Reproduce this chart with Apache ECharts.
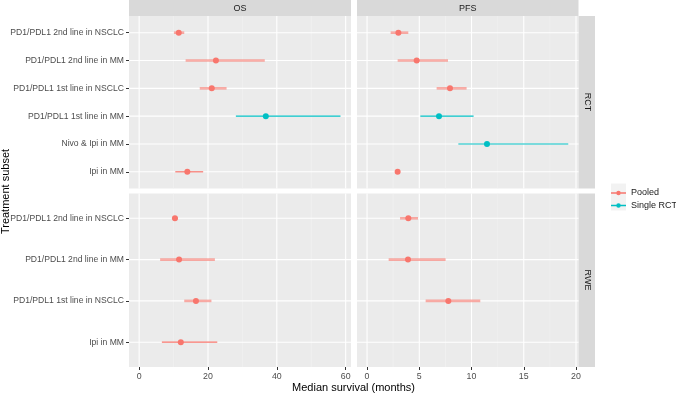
<!DOCTYPE html>
<html>
<head>
<meta charset="utf-8">
<script src="https://cdn.jsdelivr.net/npm/echarts@6/dist/echarts.min.js"></script>
<style>
html, body { margin: 0; padding: 0; background: #fff; }
#chart { width: 676px; height: 393px; }
</style>
</head>
<body>
<div id="chart"></div>
<script>
// categories, top to bottom
var rctCategories = ['PD1/PDL1 2nd line in NSCLC', 'PD1/PDL1 2nd line in MM', 'PD1/PDL1 1st line in NSCLC',
    'PD1/PDL1 1st line in MM', 'Nivo & Ipi in MM', 'Ipi in MM'];
var rctGroups = ['Pooled', 'Pooled', 'Pooled', 'Single RCT', 'Single RCT', 'Pooled'];
var rweCategories = ['PD1/PDL1 2nd line in NSCLC', 'PD1/PDL1 2nd line in MM', 'PD1/PDL1 1st line in NSCLC', 'Ipi in MM'];
var rweGroups = ['Pooled', 'Pooled', 'Pooled', 'Pooled'];

// median survival (months) and interval
var osRctMedian = [11.5, 22.3, 21.1, 36.8, null, 14.0];
var osRctLower  = [10.1, 13.5, 17.6, 28.1, null, 10.5];
var osRctUpper  = [13.1, 36.5, 25.4, 58.5, null, 18.6];
var pfsRctMedian = [3.0, 4.75, 7.94, 6.89, 11.48, 2.93];
var pfsRctLower  = [2.26, 2.93, 6.66, 5.1, 8.74, 2.82];
var pfsRctUpper  = [3.95, 7.75, 9.53, 10.2, 19.26, 3.04];
var osRweMedian = [10.4, 11.6, 16.5, 12.1];
var osRweLower  = [9.7, 6.1, 13.1, 6.6];
var osRweUpper  = [11.2, 22.0, 21.0, 22.7];
var pfsRweMedian = [3.95, 3.92, 7.78, null];
var pfsRweLower  = [3.16, 2.07, 5.61, null];
var pfsRweUpper  = [4.88, 7.52, 10.84, null];

var osTicks = [0, 20, 40, 60];
var osMinorTicks = [10, 30, 50];
var pfsTicks = [0, 5, 10, 15, 20];
var pfsMinorTicks = [2.5, 7.5, 12.5, 17.5];

var groupNames = ['Pooled', 'Single RCT'];
var groupColors = { 'Pooled': '#F8766D', 'Single RCT': '#00BFC4' };

var FONT = 'Liberation Sans, Arial, sans-serif';

var facets = [
    { cats: rctCategories, groups: rctGroups, med: osRctMedian, lo: osRctLower, hi: osRctUpper,
      ticks: osTicks, minor: osMinorTicks, min: -2.95, max: 61.55, left: 129, top: 16, width: 222, height: 172.5, showX: false, showY: true },
    { cats: rctCategories, groups: rctGroups, med: pfsRctMedian, lo: pfsRctLower, hi: pfsRctUpper,
      ticks: pfsTicks, minor: pfsMinorTicks, min: -0.96, max: 20.24, left: 357, top: 16, width: 221.5, height: 172.5, showX: false, showY: false },
    { cats: rweCategories, groups: rweGroups, med: osRweMedian, lo: osRweLower, hi: osRweUpper,
      ticks: osTicks, minor: osMinorTicks, min: -2.95, max: 61.55, left: 129, top: 193.5, width: 222, height: 173.5, showX: true, showY: true },
    { cats: rweCategories, groups: rweGroups, med: pfsRweMedian, lo: pfsRweLower, hi: pfsRweUpper,
      ticks: pfsTicks, minor: pfsMinorTicks, min: -0.96, max: 20.24, left: 357, top: 193.5, width: 221.5, height: 173.5, showX: true, showY: false }
];

var grids = [], xAxes = [], yAxes = [], series = [];

facets.forEach(function (f, i) {
    grids.push({ left: f.left, top: f.top, width: f.width, height: f.height,
        show: true, backgroundColor: '#EBEBEB', borderWidth: 0 });

    xAxes.push({
        type: 'value', gridIndex: i, min: f.min, max: f.max, position: 'bottom',
        axisLine: { show: false, onZero: false },
        splitLine: { show: false },
        axisTick: { show: f.showX, customValues: f.ticks, length: 3, lineStyle: { color: '#333', width: 1 } },
        axisLabel: { show: f.showX, customValues: f.ticks, margin: 5, color: '#4D4D4D', fontSize: 8.8, fontFamily: FONT }
    });

    var idx = f.cats.map(function (c, k) { return k; });
    yAxes.push({
        type: 'value', gridIndex: i, inverse: true, min: -0.6, max: f.cats.length - 0.4, position: 'left',
        axisLine: { show: false, onZero: false },
        splitLine: { show: false },
        axisTick: { show: f.showY, customValues: idx, length: 3, lineStyle: { color: '#333', width: 1 } },
        axisLabel: { show: f.showY, customValues: idx, margin: 5, color: '#4D4D4D', fontSize: 8.6, fontFamily: FONT,
            formatter: function (v) { return f.cats[Math.round(v)]; } }
    });

    // panel grid lines: kind 0 minor vertical, 1 major vertical, 2 horizontal
    var lines = [];
    f.minor.forEach(function (v) { lines.push([0, v]); });
    f.ticks.forEach(function (v) { lines.push([1, v]); });
    idx.forEach(function (v) { lines.push([2, v]); });
    series.push({
        type: 'custom', xAxisIndex: i, yAxisIndex: i, silent: true, z: 1,
        data: lines,
        renderItem: function (params, api) {
            var cs = params.coordSys;
            var kind = api.value(0), v = api.value(1);
            if (kind === 2) {
                var y = api.coord([0, v])[1];
                return { type: 'line', shape: { x1: cs.x, y1: y, x2: cs.x + cs.width, y2: y },
                    style: { stroke: '#FFFFFF', lineWidth: 1.1 } };
            }
            var x = api.coord([v, 0])[0];
            return { type: 'line', shape: { x1: x, y1: cs.y, x2: x, y2: cs.y + cs.height },
                style: { stroke: kind === 1 ? '#FFFFFF' : '#F4F4F4', lineWidth: kind === 1 ? 1.1 : 0.6 } };
        }
    });

    groupNames.forEach(function (g) {
        var rows = [];
        f.cats.forEach(function (c, k) {
            if (f.groups[k] === g && f.med[k] != null) rows.push([k, f.lo[k], f.hi[k], f.med[k]]);
        });
        var color = groupColors[g];
        series.push({
            name: g, type: 'custom', xAxisIndex: i, yAxisIndex: i, z: 3,
            itemStyle: { color: color },
            encode: { x: [1, 2, 3], y: 0 },
            data: rows,
            renderItem: function (params, api) {
                var k = api.value(0);
                var pLo = api.coord([api.value(1), k]);
                var pHi = api.coord([api.value(2), k]);
                var pMed = api.coord([api.value(3), k]);
                var thin = g === 'Single RCT' || f.cats[k] === 'Ipi in MM';
                return { type: 'group', children: [
                    { type: 'line', shape: { x1: pLo[0], y1: pLo[1], x2: pHi[0], y2: pHi[1] },
                      style: { stroke: color, lineWidth: thin ? 1.2 : 2.6, opacity: thin ? 1 : 0.6 } },
                    { type: 'circle', shape: { cx: pMed[0], cy: pMed[1], r: 3 }, style: { fill: color } }
                ] };
            }
        });
    });
});

var stripText = { fill: '#1A1A1A', fontSize: 9, fontFamily: FONT, align: 'center', verticalAlign: 'middle' };

var option = {
    animation: false,
    backgroundColor: '#FFFFFF',
    grid: grids,
    xAxis: xAxes,
    yAxis: yAxes,
    series: series,
    legend: {
        data: groupNames.map(function (g) {
            return { name: g, icon: 'path://M0,9H20V11H0Z M7,10A3,3 0 1,1 13,10A3,3 0 1,1 7,10Z' };
        }),
        orient: 'vertical', left: 611, top: 188.5, padding: 0, itemGap: 3.5,
        itemWidth: 15, itemHeight: 10, selectedMode: false,
        textStyle: { color: '#1A1A1A', fontSize: 9, fontFamily: FONT }
    },
    graphic: [
        { type: 'rect', shape: { x: 611, y: 183.5, width: 15, height: 27 }, style: { fill: '#F2F2F2' }, z: -1 },
        { type: 'rect', shape: { x: 129, y: 0, width: 222, height: 16 }, style: { fill: '#D9D9D9' } },
        { type: 'text', x: 240, y: 8.5, style: Object.assign({ text: 'OS' }, stripText) },
        { type: 'rect', shape: { x: 357, y: 0, width: 221.5, height: 16 }, style: { fill: '#D9D9D9' } },
        { type: 'text', x: 467.7, y: 8.5, style: Object.assign({ text: 'PFS' }, stripText) },
        { type: 'rect', shape: { x: 578.5, y: 16, width: 16.5, height: 172.5 }, style: { fill: '#D9D9D9' } },
        { type: 'text', x: 587, y: 102, rotation: -Math.PI / 2, style: Object.assign({ text: 'RCT' }, stripText) },
        { type: 'rect', shape: { x: 578.5, y: 193.5, width: 16.5, height: 173.5 }, style: { fill: '#D9D9D9' } },
        { type: 'text', x: 587, y: 280, rotation: -Math.PI / 2, style: Object.assign({ text: 'RWE' }, stripText) },
        { type: 'text', x: 353.5, y: 388, style: { text: 'Median survival (months)', fill: '#000', fontSize: 11,
            fontFamily: FONT, align: 'center', verticalAlign: 'middle' } },
        { type: 'text', x: 5.5, y: 191.5, rotation: Math.PI / 2, style: { text: 'Treatment subset', fill: '#000', fontSize: 11,
            fontFamily: FONT, align: 'center', verticalAlign: 'middle' } }
    ]
};

var myChart = echarts.init(document.getElementById('chart'));
myChart.setOption(option);
</script>
</body>
</html>
